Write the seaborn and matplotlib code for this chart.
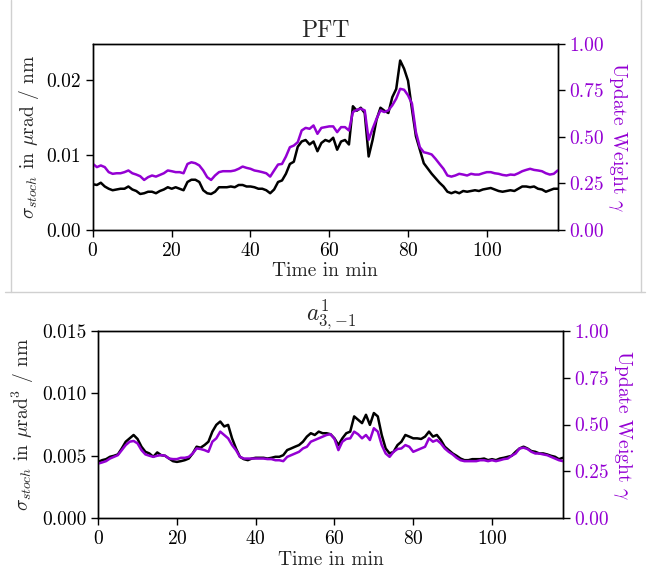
import numpy as np
import matplotlib
matplotlib.use("Agg")
import matplotlib.pyplot as plt
import seaborn as sns
from matplotlib.lines import Line2D

# time axis in minutes
time_min = np.arange(0, 119)

# PFT: stochastic sigma (in 1e-3 urad/nm) and update weight gamma
pft_sigma = [6.1, 6.0, 6.3, 5.8, 5.5, 5.3, 5.4, 5.5, 5.5, 5.8, 5.4, 5.2, 4.8, 4.9, 5.1, 5.1, 4.9, 5.2, 5.4, 5.7,
             5.5, 5.7, 5.5, 5.3, 6.4, 6.7, 6.7, 6.4, 5.3, 4.9, 4.8, 5.1, 5.7, 5.7, 5.7, 5.8, 5.7, 6.0, 6.0, 5.8,
             5.8, 5.7, 5.5, 5.5, 5.3, 4.9, 5.4, 6.4, 6.6, 7.5, 8.8, 9.1, 11.1, 11.8, 12.0, 11.4, 11.8, 10.5, 11.6, 12.0,
             11.8, 12.3, 10.7, 11.8, 12.0, 11.4, 16.5, 15.9, 16.3, 15.6, 9.8, 12.0, 14.7, 16.3, 15.9, 15.6, 17.7, 18.8, 22.6, 21.5,
             19.9, 16.1, 12.5, 10.7, 8.9, 8.2, 7.5, 6.9, 6.3, 5.8, 5.1, 4.9, 5.1, 4.9, 5.2, 5.1, 5.2, 5.3, 5.2, 5.4,
             5.5, 5.6, 5.4, 5.2, 5.1, 5.2, 5.3, 5.2, 5.5, 5.8, 5.8, 5.7, 5.8, 5.5, 5.4, 5.1, 5.3, 5.5, 5.5]
pft_gamma = [0.355, 0.338, 0.347, 0.338, 0.311, 0.302, 0.305, 0.305, 0.311, 0.320, 0.305, 0.298, 0.289, 0.269, 0.284, 0.293, 0.287, 0.296, 0.305, 0.320,
             0.316, 0.311, 0.311, 0.305, 0.355, 0.364, 0.359, 0.347, 0.320, 0.284, 0.269, 0.293, 0.311, 0.316, 0.316, 0.316, 0.320, 0.329, 0.341, 0.334,
             0.329, 0.320, 0.316, 0.311, 0.305, 0.287, 0.320, 0.352, 0.355, 0.395, 0.445, 0.454, 0.472, 0.535, 0.549, 0.544, 0.562, 0.517, 0.549, 0.553,
             0.557, 0.557, 0.526, 0.553, 0.553, 0.535, 0.634, 0.646, 0.652, 0.643, 0.485, 0.544, 0.598, 0.643, 0.634, 0.643, 0.670, 0.706, 0.759, 0.754,
             0.724, 0.679, 0.526, 0.445, 0.418, 0.413, 0.406, 0.382, 0.355, 0.329, 0.293, 0.287, 0.293, 0.302, 0.298, 0.293, 0.302, 0.298, 0.298, 0.305,
             0.311, 0.311, 0.305, 0.302, 0.296, 0.293, 0.298, 0.296, 0.305, 0.316, 0.323, 0.329, 0.323, 0.320, 0.316, 0.305, 0.298, 0.302, 0.320]

# a^1_{3,-1}: stochastic sigma (in 1e-3 urad^3/nm) and update weight gamma
a31_sigma = [4.50, 4.64, 4.72, 4.91, 4.99, 5.10, 5.58, 6.12, 6.39, 6.66, 6.34, 5.72, 5.31, 5.18, 4.91, 5.26, 5.04, 4.99, 4.77, 4.56,
             4.50, 4.56, 4.64, 4.77, 5.18, 5.72, 5.64, 5.85, 6.12, 6.93, 7.47, 7.74, 7.34, 7.47, 6.39, 5.58, 4.91, 4.72, 4.64, 4.77,
             4.83, 4.83, 4.83, 4.77, 4.83, 4.91, 4.91, 5.04, 5.45, 5.58, 5.72, 5.85, 6.12, 6.53, 6.80, 6.66, 6.93, 6.80, 6.80, 6.72,
             6.39, 5.85, 6.39, 6.80, 6.93, 8.15, 7.88, 7.61, 8.28, 7.47, 8.42, 8.15, 6.66, 5.58, 5.18, 5.31, 5.85, 6.12, 6.66, 6.53,
             6.39, 6.39, 6.34, 6.53, 6.93, 6.53, 6.66, 6.26, 5.72, 5.45, 5.18, 4.99, 4.77, 4.64, 4.64, 4.72, 4.72, 4.72, 4.77, 4.64,
             4.72, 4.64, 4.77, 4.83, 4.91, 4.99, 5.31, 5.58, 5.72, 5.58, 5.37, 5.31, 5.18, 5.18, 5.10, 4.99, 4.91, 4.72, 4.83]
a31_gamma = [0.291, 0.297, 0.304, 0.318, 0.327, 0.336, 0.363, 0.390, 0.408, 0.412, 0.399, 0.363, 0.340, 0.333, 0.327, 0.333, 0.336, 0.333, 0.318, 0.315,
             0.315, 0.322, 0.322, 0.327, 0.345, 0.372, 0.369, 0.363, 0.354, 0.408, 0.426, 0.462, 0.444, 0.426, 0.390, 0.363, 0.327, 0.318, 0.318, 0.318,
             0.318, 0.318, 0.318, 0.315, 0.315, 0.309, 0.309, 0.304, 0.327, 0.336, 0.345, 0.354, 0.372, 0.381, 0.408, 0.417, 0.426, 0.435, 0.444, 0.448,
             0.423, 0.363, 0.408, 0.423, 0.426, 0.462, 0.448, 0.426, 0.444, 0.417, 0.480, 0.462, 0.390, 0.345, 0.327, 0.354, 0.369, 0.372, 0.390, 0.381,
             0.354, 0.363, 0.372, 0.381, 0.426, 0.408, 0.417, 0.399, 0.372, 0.354, 0.340, 0.322, 0.309, 0.304, 0.304, 0.304, 0.304, 0.309, 0.309, 0.304,
             0.309, 0.304, 0.309, 0.315, 0.318, 0.333, 0.345, 0.372, 0.376, 0.369, 0.354, 0.345, 0.345, 0.340, 0.336, 0.327, 0.318, 0.309, 0.304]

sns.set_style("ticks")
plt.rcParams["font.family"] = ["cmr10", "DejaVu Serif"]
plt.rcParams["mathtext.fontset"] = "cm"
plt.rcParams["axes.formatter.use_mathtext"] = True
plt.rcParams["axes.unicode_minus"] = False

violet = "darkviolet"
fs = 14


def draw_panel(ax, sigma, gamma, scale, title, ylabel, yticks, ylim):
    sns.lineplot(x=time_min, y=np.array(sigma) * scale, ax=ax, color="black", linewidth=1.8)
    ax.set_xlim(0, 118)
    ax.set_ylim(*ylim)
    ax.set_yticks(yticks)
    ax.set_xticks([0, 20, 40, 60, 80, 100])
    ax.set_xlabel("Time in min", fontsize=fs, labelpad=2)
    ax.set_ylabel(ylabel, fontsize=fs)
    ax.set_title(title, fontsize=17, pad=5)
    ax.tick_params(labelsize=fs, direction="out", length=5, width=1, colors="black")
    for s in ax.spines.values():
        s.set_color("black")
        s.set_linewidth(1)

    ax2 = ax.twinx()
    sns.lineplot(x=time_min, y=gamma, ax=ax2, color=violet, linewidth=1.8)
    ax2.set_ylim(0, 1)
    ax2.set_yticks([0, 0.25, 0.5, 0.75, 1.0])
    ax2.set_yticklabels(["0.00", "0.25", "0.50", "0.75", "1.00"])
    ax2.tick_params(axis="y", labelsize=fs, labelcolor=violet, color="black", length=5, width=1)
    ax2.set_ylabel(r"Update Weight $\gamma$", color=violet, fontsize=fs, rotation=270, labelpad=18)
    for s in ax2.spines.values():
        s.set_color("black")
        s.set_linewidth(1)
    return ax2


fig = plt.figure(figsize=(6.5, 5.69), dpi=100)
ax_top = fig.add_axes([0.143, 0.5958, 0.715, 0.3269])
ax_bot = fig.add_axes([0.151, 0.0896, 0.715, 0.3287])

draw_panel(ax_top, pft_sigma, pft_gamma, 1e-3, "PFT",
           r"$\sigma_{stoch}$ in $\mu$rad / nm", [0.0, 0.01, 0.02], (0, 0.0248))
draw_panel(ax_bot, a31_sigma, a31_gamma, 1e-3, r"$a^1_{3,{-}1}$",
           r"$\sigma_{stoch}$ in $\mu$rad$^3$ / nm", [0.0, 0.005, 0.010, 0.015], (0, 0.015))
ax_top.set_yticklabels(["0.00", "0.01", "0.02"])
ax_bot.set_yticklabels(["0.000", "0.005", "0.010", "0.015"])

# light frame around the upper panel
frame_col = "#d0d0d0"
fig.add_artist(Line2D([11 / 650, 11 / 650], [1, 1 - 292 / 569], color=frame_col, lw=1))
fig.add_artist(Line2D([641 / 650, 641 / 650], [1, 1 - 292 / 569], color=frame_col, lw=1))
fig.add_artist(Line2D([5 / 650, 645 / 650], [1 - 292 / 569, 1 - 292 / 569], color=frame_col, lw=1))

fig.savefig("out.png", dpi=100)
